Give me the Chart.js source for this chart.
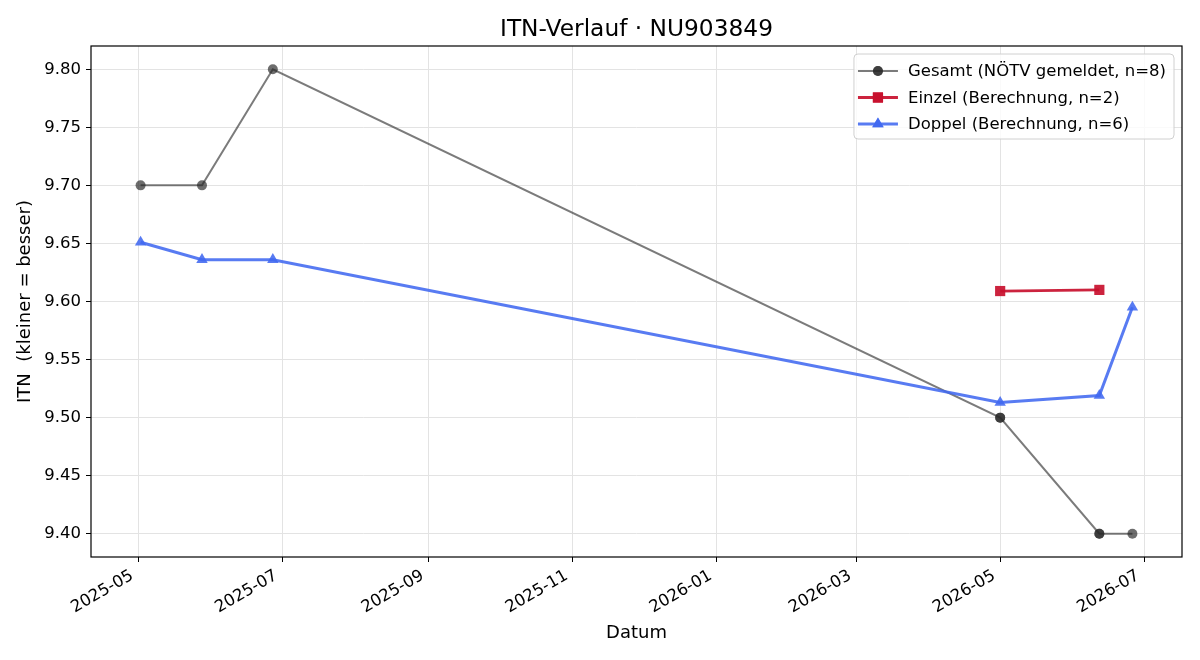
<!DOCTYPE html>
<html>
<head>
<meta charset="utf-8">
<script src="https://cdn.jsdelivr.net/npm/chart.js@4"></script>
<style>
  html, body { margin: 0; padding: 0; background: #fff; }
  #wrap { width: 1200px; height: 660px; }
</style>
</head>
<body>
<div id="wrap"><canvas id="myChart" width="1200" height="660"></canvas></div>
<script>
const FONT = '"DejaVu Sans", sans-serif';

const gesamtDates = ['2025-05-02', '2025-05-28', '2025-06-27', '2026-05-01', '2026-05-01', '2026-06-12', '2026-06-12', '2026-06-26'];
const gesamtValues = [9.70, 9.70, 9.80, 9.50, 9.50, 9.40, 9.40, 9.40];
const einzelDates = ['2026-05-01', '2026-06-12'];
const einzelValues = [9.609, 9.610];
const doppelDates = ['2025-05-02', '2025-05-28', '2025-06-27', '2026-05-01', '2026-06-12', '2026-06-26'];
const doppelValues = [9.651, 9.636, 9.636, 9.513, 9.519, 9.595];
const xTickLabels = ['2025-05', '2025-07', '2025-09', '2025-11', '2026-01', '2026-03', '2026-05', '2026-07'];
const yTickValues = [9.40, 9.45, 9.50, 9.55, 9.60, 9.65, 9.70, 9.75, 9.80];

const toMs = d => Date.parse(d);
const pts = (dates, vals) => dates.map((d, i) => ({ x: toMs(d), y: vals[i] }));

// matplotlib-like 5% margins
const allX = [...gesamtDates, ...einzelDates, ...doppelDates].map(toMs);
const allY = [...gesamtValues, ...einzelValues, ...doppelValues];
const xLo = Math.min(...allX), xHi = Math.max(...allX);
const yLo = Math.min(...allY), yHi = Math.max(...allY);
const xPad = (xHi - xLo) * 0.05, yPad = (yHi - yLo) * 0.05;

const datasets = [
    {
        label: 'Gesamt (NÖTV gemeldet, n=8)',
        data: pts(gesamtDates, gesamtValues),
        borderColor: 'rgba(60,60,60,0.68)',
        backgroundColor: 'rgba(40,40,40,0.68)',
        borderWidth: 2,
        pointStyle: 'circle',
        pointRadius: 5,
        pointBorderWidth: 0,
        order: 3,
    },
    {
        label: 'Einzel (Berechnung, n=2)',
        data: pts(einzelDates, einzelValues),
        borderColor: 'rgba(200,16,46,0.92)',
        backgroundColor: 'rgba(200,16,46,0.92)',
        borderWidth: 2.8,
        pointStyle: 'rect',
        pointRadius: 7.2,
        pointBorderWidth: 0,
        order: 2,
    },
    {
        label: 'Doppel (Berechnung, n=6)',
        data: pts(doppelDates, doppelValues),
        borderColor: 'rgba(65,105,240,0.88)',
        backgroundColor: 'rgba(65,105,240,0.88)',
        borderWidth: 3,
        pointStyle: 'triangle',
        pointRadius: 6.6,
        pointBorderWidth: 0,
        order: 1,
    }
];

// frame, title and legend drawn like matplotlib
const decor = {
    id: 'decor',
    afterDraw(chart) {
        const { ctx, chartArea: a } = chart;
        ctx.save();
        ctx.strokeStyle = '#000';
        ctx.lineWidth = 1.2;
        ctx.strokeRect(a.left, a.top, a.right - a.left, a.bottom - a.top);

        ctx.fillStyle = '#000';
        ctx.font = '23.3px ' + FONT;
        ctx.textAlign = 'center';
        ctx.textBaseline = 'alphabetic';
        ctx.fillText('ITN-Verlauf · NU903849', (a.left + a.right) / 2, 36);

        // legend
        ctx.font = '16.5px ' + FONT;
        const tw = Math.max(...datasets.map(d => ctx.measureText(d.label).width));
        const bw = 54 + tw + 8, bh = 85;
        const bx = a.right - 8 - bw, by = a.top + 8;
        ctx.fillStyle = 'rgba(255,255,255,0.8)';
        ctx.strokeStyle = '#d0d0d0';
        ctx.lineWidth = 1;
        ctx.beginPath();
        ctx.roundRect(bx, by, bw, bh, 4);
        ctx.fill();
        ctx.stroke();
        ctx.textAlign = 'left';
        ctx.textBaseline = 'middle';
        datasets.forEach((d, i) => {
            const y = by + 17 + i * 26.5;
            ctx.strokeStyle = d.borderColor;
            ctx.lineWidth = d.borderWidth;
            ctx.beginPath();
            ctx.moveTo(bx + 4, y);
            ctx.lineTo(bx + 44, y);
            ctx.stroke();
            ctx.fillStyle = d.backgroundColor;
            Chart.helpers.drawPoint(ctx, { pointStyle: d.pointStyle, radius: d.pointRadius, borderWidth: 0 }, bx + 24, y);
            ctx.fill();
            ctx.fillStyle = '#000';
            ctx.fillText(d.label, bx + 54, y + 1);
        });
        ctx.restore();
    }
};

const config = {
    type: 'line',
    data: { datasets: datasets },
    options: {
        responsive: false,
        animation: false,
        layout: { padding: { left: 0, right: 18, top: 46, bottom: 0 } },
        plugins: {
            legend: { display: false },
            title: { display: false },
            tooltip: { enabled: false },
        },
        scales: {
            x: {
                type: 'linear',
                min: xLo - xPad,
                max: xHi + xPad,
                afterBuildTicks: s => {
                    s.ticks = xTickLabels.map(t => ({ value: toMs(t + '-01') }));
                },
                afterFit: s => { s.height = 103; },
                ticks: {
                    callback: v => {
                        const d = new Date(v);
                        return d.getUTCFullYear() + '-' + String(d.getUTCMonth() + 1).padStart(2, '0');
                    },
                    font: { family: FONT, size: 16.5 },
                    color: '#000',
                    minRotation: 30,
                    maxRotation: 30,
                    padding: 4,
                    labelOffset: -6,
                },
                grid: { color: '#e3e3e3', tickColor: '#000', tickLength: 5, lineWidth: 1 },
                border: { display: false },
                title: {
                    display: true,
                    text: 'Datum',
                    font: { family: FONT, size: 18 },
                    color: '#000',
                    padding: { top: 0, bottom: 16 },
                },
            },
            y: {
                min: yLo - yPad,
                max: yHi + yPad,
                afterBuildTicks: s => {
                    s.ticks = yTickValues.map(v => ({ value: v }));
                },
                afterFit: s => { s.width = 91; },
                ticks: {
                    callback: v => v.toFixed(2),
                    font: { family: FONT, size: 16.5 },
                    color: '#000',
                    padding: 5,
                },
                grid: { color: '#e3e3e3', tickColor: '#000', tickLength: 5, lineWidth: 1 },
                border: { display: false },
                title: {
                    display: true,
                    text: 'ITN  (kleiner = besser)',
                    font: { family: FONT, size: 18 },
                    color: '#000',
                    padding: { top: 15, bottom: 0 },
                },
            },
        },
    },
    plugins: [decor],
};

const ctx = document.getElementById('myChart').getContext('2d');
new Chart(ctx, config);
</script>
</body>
</html>
